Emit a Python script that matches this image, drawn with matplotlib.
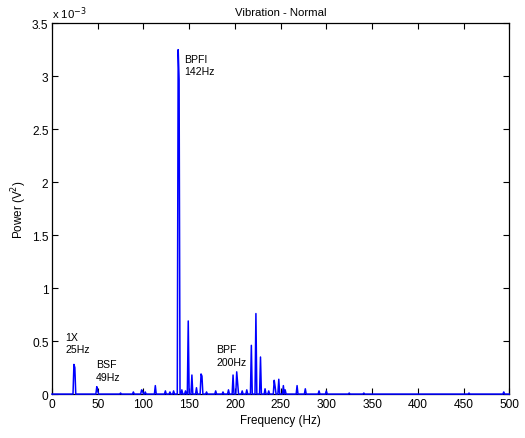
import numpy as np
import matplotlib
matplotlib.use('Agg')
import matplotlib.pyplot as plt

plt.rcParams['font.family'] = ['Liberation Sans', 'DejaVu Sans']
plt.rcParams['font.size'] = 8.4

# spectrum peaks (power in units of 1e-3 V^2)
peak_hz = [24, 25, 49, 50, 75, 89, 98, 99, 102, 113, 124, 129, 133,
           138, 139, 142, 146, 149, 153, 158, 163, 164, 169, 179, 187,
           193, 198, 202, 203, 208, 213, 218, 223, 228, 233, 237, 243,
           244, 248, 253, 255, 268, 277, 292, 300, 325, 341, 456, 494]
peak_power = [0.28, 0.25, 0.07, 0.03, 0.01, 0.02, 0.04, 0.03, 0.02, 0.08,
              0.03, 0.02, 0.03, 3.25, 2.97, 0.04, 0.03, 0.69, 0.18, 0.06,
              0.19, 0.17, 0.02, 0.03, 0.02, 0.04, 0.18, 0.21, 0.10, 0.03,
              0.04, 0.46, 0.76, 0.35, 0.05, 0.03, 0.13, 0.07, 0.14, 0.08,
              0.04, 0.08, 0.05, 0.03, 0.03, 0.01, 0.01, 0.01, 0.02]

labels = ["1X\n25Hz", "BSF\n49Hz", "BPFI\n142Hz", "BPF\n200Hz"]
label_x = [15, 48, 145, 179.5]
label_y = [0.585, 0.33, 3.21, 0.47]

freq = np.arange(0, 501, 1.0)
power = np.zeros_like(freq)
for f, p in zip(peak_hz, peak_power):
    power[int(f)] = p * 1e-3


def main():
    fig = plt.figure(figsize=(5.25, 4.39), dpi=100)
    ax = fig.add_axes([0.099, 0.100, 0.871, 0.845])
    ax.plot(freq, power / 1e-3, color='#0000ff', linewidth=1.1, zorder=3,
            clip_on=False)

    for txt, x, y in zip(labels, label_x, label_y):
        ax.text(x, y, txt, ha='left', va='top', fontsize=7.6, linespacing=1.3)

    ax.set_xlim(0, 500)
    ax.set_ylim(0, 3.5)
    ax.set_xticks(np.arange(0, 501, 50))
    ax.set_yticks([0, 0.5, 1, 1.5, 2, 2.5, 3, 3.5])
    ax.set_yticklabels(['0', '0.5', '1', '1.5', '2', '2.5', '3', '3.5'])
    ax.tick_params(direction='in', length=4, width=0.8, top=True, right=True,
                   labelsize=8.6, pad=2.5)
    for s in ax.spines.values():
        s.set_linewidth(0.9)

    ax.set_title("Vibration - Normal", fontsize=8.2, pad=6)
    ax.set_xlabel("Frequency (Hz)", fontsize=8.4, labelpad=3)
    ax.set_ylabel("Power (V$^2$)", fontsize=8.4, labelpad=2)
    ax.text(0.0, 1.005, "x 10$^{-3}$", transform=ax.transAxes,
            ha='left', va='bottom', fontsize=8.2)

    fig.savefig("out.png", dpi=100)


if __name__ == '__main__':
    main()
